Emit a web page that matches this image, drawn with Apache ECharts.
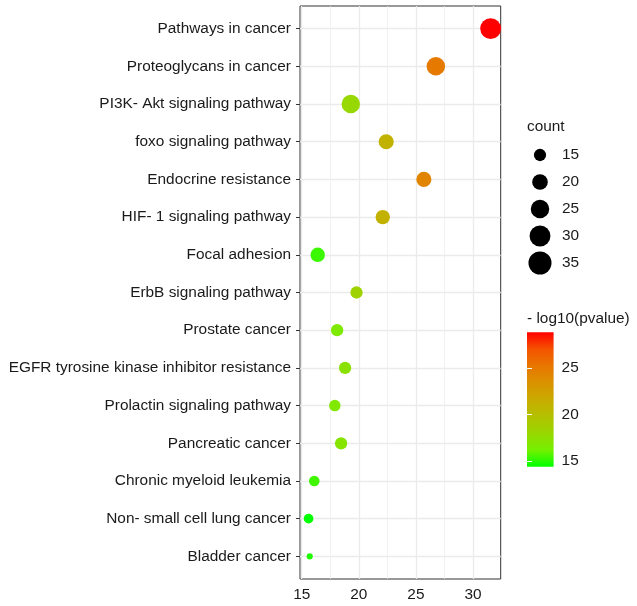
<!DOCTYPE html>
<html>
<head>
<meta charset="utf-8">
<script src="https://cdn.jsdelivr.net/npm/echarts@6/dist/echarts.min.js"></script>
<style>html,body{margin:0;padding:0;background:#fff}#c{width:637px;height:606px}</style>
</head>
<body>
<div id="c"></div>
<script>
const categories = [
  'Pathways in cancer',
  'Proteoglycans in cancer',
  'PI3K- Akt signaling pathway',
  'foxo signaling pathway',
  'Endocrine resistance',
  'HIF- 1 signaling pathway',
  'Focal adhesion',
  'ErbB signaling pathway',
  'Prostate cancer',
  'EGFR tyrosine kinase inhibitor resistance',
  'Prolactin signaling pathway',
  'Pancreatic cancer',
  'Chronic myeloid leukemia',
  'Non- small cell lung cancer',
  'Bladder cancer'
];
const xValues = [31.55, 26.75, 19.3, 22.4, 25.7, 22.1, 16.4, 19.8, 18.1, 18.8, 17.9, 18.45, 16.1, 15.6, 15.7];
const counts = [30, 25, 25, 19, 19, 18, 18, 15, 15, 15, 14, 15, 13, 12, 9];
const pvalues = [28.8, 25.0, 17.9, 21.0, 24.3, 21.1, 15.3, 18.4, 16.6, 17.3, 16.8, 17.0, 15.4, 14.4, 14.9];
const xTicks = [15, 20, 25, 30];
const xMinorLines = [17.5, 22.5, 27.5];
const sizeBreaks = [15, 20, 25, 30, 35];
const colorBreaks = [15, 20, 25];
const colorMin = 14.4, colorMax = 28.8;
const gradientColors = ['#00FF00', '#75F000', '#98D700', '#B3C100', '#C9AB00', '#DA9200', '#E87600', '#F45300', '#FF0000'];

const FONT = 'Liberation Sans, Arial, sans-serif';
const TXT = '#1a1a1a';
const FS = 15.4;
function sizeOf(c) { return Math.sqrt(Math.max(19 * c - 134, 4)); }

const catIdx = categories.map((_, i) => i);
const mainData = categories.map((n, i) => [xValues[i], i, counts[i], pvalues[i]]);

const majorLines = xTicks.map(v => ({ xAxis: v, lineStyle: { width: 1.3 } }))
  .concat(catIdx.map(i => ({ yAxis: i, lineStyle: { width: 1.3 } })))
  .concat(xMinorLines.map(v => ({ xAxis: v, lineStyle: { width: 0.7 } })));

const chart = echarts.init(document.getElementById('c'), null, { renderer: 'canvas' });
chart.setOption({
  animation: false,
  backgroundColor: '#fff',
  textStyle: { fontFamily: FONT },
  title: [
    { text: 'count', left: 527, top: 119, padding: 0, textStyle: { fontSize: FS, fontWeight: 'normal', color: TXT, fontFamily: FONT } },
    { text: '- log10(pvalue)', left: 527, top: 311, padding: 0, textStyle: { fontSize: FS, fontWeight: 'normal', color: TXT, fontFamily: FONT } }
  ],
  grid: [
    { left: 300, top: 6, width: 200.7, height: 573, show: true, borderColor: '#333', borderWidth: 1, backgroundColor: 'transparent', containLabel: false },
    { left: 527, top: 141.5, width: 26, height: 135, show: false },
    { left: 527, top: 332.3, width: 26.6, height: 134.4, show: true, borderWidth: 0,
      backgroundColor: { type: 'linear', x: 0, y: 1, x2: 0, y2: 0,
        colorStops: gradientColors.map((c, i) => ({ offset: i / (gradientColors.length - 1), color: c })) } }
  ],
  xAxis: [
    { gridIndex: 0, type: 'value', min: 14.85, max: 32.43,
      axisLine: { show: false },
      splitLine: { show: false },
      axisTick: { show: true, customValues: xTicks, length: 4, lineStyle: { color: '#333', width: 1 } },
      axisLabel: { customValues: xTicks, margin: 8, fontSize: FS, color: TXT, fontFamily: FONT } },
    { gridIndex: 1, type: 'value', min: -1, max: 1, show: false },
    { gridIndex: 2, type: 'value', min: 0, max: 1, show: false }
  ],
  yAxis: [
    { gridIndex: 0, type: 'value', inverse: true, min: -0.6, max: 14.6,
      axisLine: { show: false },
      splitLine: { show: false },
      axisTick: { show: true, customValues: catIdx, length: 4, lineStyle: { color: '#333', width: 1 } },
      axisLabel: { customValues: catIdx, margin: 9, fontSize: FS, color: TXT, fontFamily: FONT,
        formatter: v => categories[Math.round(v)] } },
    { gridIndex: 1, type: 'category', inverse: true, position: 'right', data: sizeBreaks.map(String),
      axisLine: { show: false }, axisTick: { show: false }, splitLine: { show: false },
      axisLabel: { margin: 9, fontSize: FS, color: TXT, fontFamily: FONT } },
    { gridIndex: 2, type: 'value', min: colorMin, max: colorMax, position: 'right',
      axisLine: { show: false }, splitLine: { show: false },
      axisTick: { show: true, inside: true, length: 5, customValues: colorBreaks, lineStyle: { color: '#fff', width: 1 } },
      axisLabel: { customValues: colorBreaks, margin: 8, fontSize: FS, color: TXT, fontFamily: FONT } },
    { gridIndex: 2, type: 'value', min: colorMin, max: colorMax, position: 'left',
      axisLine: { show: false }, splitLine: { show: false },
      axisTick: { show: true, inside: true, length: 5, customValues: colorBreaks, lineStyle: { color: '#fff', width: 1 } },
      axisLabel: { show: false } }
  ],
  visualMap: {
    show: false, type: 'continuous', seriesIndex: 0, dimension: 3,
    min: colorMin, max: colorMax, inRange: { color: gradientColors }
  },
  series: [
    { type: 'scatter', xAxisIndex: 0, yAxisIndex: 0, z: 5, data: mainData,
      symbolSize: d => sizeOf(d[2]), itemStyle: { opacity: 1 } },
    { type: 'scatter', xAxisIndex: 0, yAxisIndex: 0, z: 1, data: [], silent: true,
      markLine: { silent: true, symbol: 'none', label: { show: false }, animation: false,
        lineStyle: { color: '#EBEBEB', type: 'solid' }, data: majorLines } },
    { type: 'scatter', xAxisIndex: 1, yAxisIndex: 1, data: sizeBreaks.map((v, i) => [0, i, v]),
      symbolSize: d => sizeOf(d[2]), itemStyle: { color: '#000', opacity: 1 } }
  ]
});
</script>
</body>
</html>
